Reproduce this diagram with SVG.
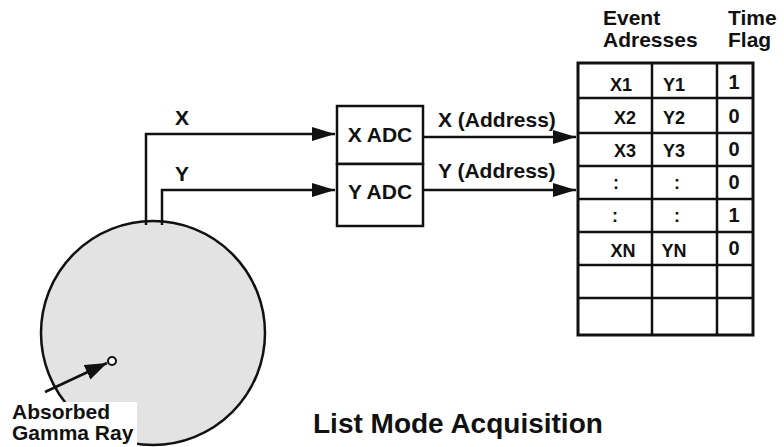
<svg xmlns="http://www.w3.org/2000/svg" width="784" height="447" viewBox="0 0 784 447">
<style>
text{font-family:"Liberation Sans",Arial,sans-serif;font-weight:bold;fill:#111}
.l{font-size:21px}
.c{font-size:18px;text-anchor:middle}
.f{font-size:20px;text-anchor:middle}
.ln{fill:none;stroke:#111;stroke-width:2.5}
.box{fill:#fff;stroke:#111;stroke-width:2.5}
</style>
<defs>
<marker id="ah" markerWidth="23" markerHeight="14" refX="23" refY="7" orient="auto" markerUnits="userSpaceOnUse">
<path d="M0,0 L23,7 L0,14 Z" fill="#111"/>
</marker>
<marker id="ah2" markerWidth="22" markerHeight="16" refX="22" refY="8" orient="auto" markerUnits="userSpaceOnUse">
<path d="M0,0 L22,8 L0,16 Z" fill="#111"/>
</marker>
</defs>
<rect width="784" height="447" fill="#fff"/>

<g id="detector">
<circle cx="153" cy="333" r="112" fill="#e3e3e3" stroke="#111" stroke-width="2.5"/>
<rect x="0" y="402" width="137" height="45" fill="#fff"/>
<circle cx="112" cy="361" r="4" fill="#fff" stroke="#111" stroke-width="2"/>
<text class="l" x="12" y="419">Absorbed</text>
<text class="l" x="12" y="440">Gamma Ray</text>
</g>

<g id="xadc">
<rect class="box" x="337" y="106" width="86" height="58"/>
<text class="l" x="380" y="142" text-anchor="middle">X ADC</text>
</g>
<g id="yadc">
<rect class="box" x="337" y="164" width="86" height="62"/>
<text class="l" x="380" y="199" text-anchor="middle">Y ADC</text>
</g>

<g id="table">
<text class="l" x="603" y="25">Event</text>
<text class="l" x="603" y="47">Adresses</text>
<text class="l" x="728" y="25">Time</text>
<text class="l" x="728" y="47">Flag</text>
<rect x="578" y="63" width="175" height="272" fill="#fff" stroke="#111" stroke-width="3"/>
<path class="ln" d="M652,63V335M717,63V335M578,98H753M578,133H753M578,166H753M578,199H753M578,232H753M578,265H753M578,298H753"/>
<text class="c" x="621" y="91">X1</text><text class="c" x="674" y="91">Y1</text><text class="f" x="734" y="89">1</text>
<text class="c" x="625" y="124">X2</text><text class="c" x="674" y="124">Y2</text><text class="f" x="734" y="123">0</text>
<text class="c" x="625" y="157">X3</text><text class="c" x="674" y="157">Y3</text><text class="f" x="734" y="156">0</text>
<text class="c" x="616" y="189">:</text><text class="c" x="677" y="189">:</text><text class="f" x="734" y="189">0</text>
<text class="c" x="615" y="222">:</text><text class="c" x="677" y="222">:</text><text class="f" x="734" y="222">1</text>
<text class="c" x="623" y="257">XN</text><text class="c" x="674" y="257">YN</text><text class="f" x="734" y="255">0</text>
</g>

<g id="connectors">
<path class="ln" d="M146,225V134H335" marker-end="url(#ah)"/>
<path class="ln" d="M162,225V190H335" marker-end="url(#ah)"/>
<path class="ln" d="M423,137H576" marker-end="url(#ah)"/>
<path class="ln" d="M423,190H576" marker-end="url(#ah)"/>
<path class="ln" d="M45,392L107,363" marker-end="url(#ah2)"/>
<text class="l" x="175" y="125">X</text>
<text class="l" x="175" y="181">Y</text>
<text class="l" x="438" y="127">X (Address)</text>
<text class="l" x="438" y="178">Y (Address)</text>
</g>

<text x="313" y="433" font-size="28">List Mode Acquisition</text>
</svg>
